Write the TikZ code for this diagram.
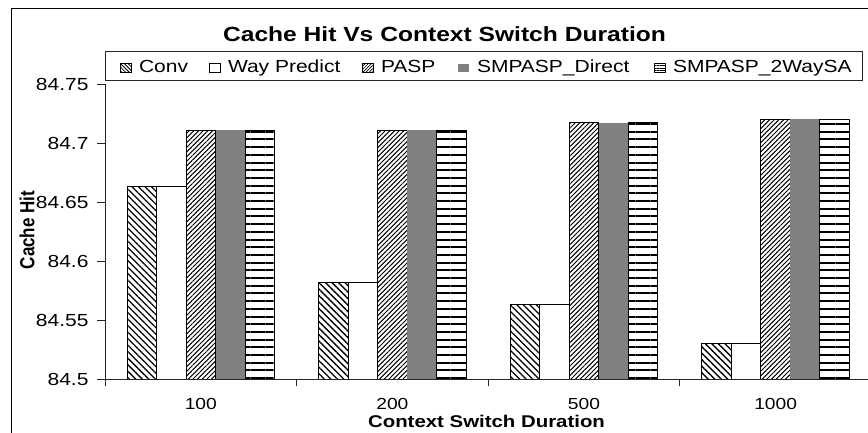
\documentclass[tikz,border=0pt]{standalone}
\usepackage{graphicx}
\usepackage{fontspec}
\setmainfont{Liberation Sans}
\usetikzlibrary{patterns.meta}

% text is set slightly wide, as in the chart's original rendering
\newcommand{\wide}[1]{\scalebox{1.2}[1]{#1}}
\newcommand{\tall}[1]{\scalebox{1}[1.2]{#1}}

\tikzset{
  txt/.style={inner sep=0pt, outer sep=0pt},
  titletxt/.style={txt, font=\fontsize{20.5}{24}\selectfont\bfseries},
  axtitle/.style={txt, font=\fontsize{17}{20}\selectfont\bfseries},
  ticklab/.style={txt, font=\fontsize{17.5}{20}\selectfont},
  catlab/.style={txt, font=\fontsize{16}{19}\selectfont},
  legtxt/.style={txt, font=\fontsize{17.5}{20}\selectfont, anchor=base west},
  axisline/.style={draw=black!85, line width=1pt},
  barbox/.style={draw=black, line width=1pt},
  convbar/.style={barbox, pattern={Lines[angle=-45,distance=4.6pt,line width=1.3pt]}, pattern color=black},
  waybar/.style={barbox, fill=white},
  paspbar/.style={barbox, pattern={Lines[angle=45,distance=3.3pt,line width=1pt]}, pattern color=black},
  directbar/.style={fill=black!50},
  sabar/.style={barbox, pattern={Lines[angle=0,distance=7.7pt,line width=2pt]}, pattern color=black},
  legmark/.style={line width=0.8pt},
}

\begin{document}
\begin{tikzpicture}[x=1pt,y=-1pt]
  \useasboundingbox (0,0) rectangle (868,432);
  \clip (0,0) rectangle (868,432);
  \fill[white] (0,0) rectangle (868,432);

  % chart frame (runs past the right and bottom edges)
  \draw[line width=1pt] (11,8) rectangle (878,445);

  % title
  \node[titletxt] (title) at (444.5,34) {\wide{Cache Hit Vs Context Switch Duration}};

  % bars: left edge of group g is 127 + 191.6 g, bar width 29.5
  % value v sits at y = 379 - (v - 84.5) * 1180
  \foreach \lo/\hi [count=\g from 0] in {84.663/84.711, 84.582/84.711, 84.563/84.717, 84.530/84.720} {
    \pgfmathsetmacro\xl{127+191.6*\g}
    \pgfmathsetmacro\ylo{379-(\lo-84.5)*1180}
    \pgfmathsetmacro\yhi{379-(\hi-84.5)*1180}
    \draw[convbar]   (\xl,379) rectangle ({\xl+29.5},\ylo);
    \draw[waybar]    ({\xl+29.5},379) rectangle ({\xl+59},\ylo);
    \draw[paspbar]   ({\xl+59},379) rectangle ({\xl+88.5},\yhi);
    \fill[directbar] ({\xl+88.5},379) rectangle ({\xl+118},\yhi);
    \draw[sabar]     ({\xl+118},379) rectangle ({\xl+147.5},\yhi);
  }

  % axes
  \draw[axisline] (105,84) -- (105,379) -- (872,379);
  \foreach \lab [count=\i from 0] in {84.5,84.55,84.6,84.65,84.7,84.75} {
    \draw[axisline] (97,{379-59*\i}) -- (105,{379-59*\i});
    \node[ticklab, anchor=east] (ytick\i) at (88.5,{379-59*\i}) {\wide{\lab}};
  }
  \foreach \k in {0,...,4} {
    \draw[axisline] ({105+191.6*\k},379) -- ({105+191.6*\k},386);
  }
  \foreach \c [count=\g from 0] in {100,200,500,1000} {
    \node[catlab] (cat\g) at ({200.8+191.6*\g},403.5) {\wide{\c}};
  }

  % axis titles
  \node[axtitle] (xtitle) at (486.5,421) {\wide{Context Switch Duration}};
  \node[axtitle, rotate=90] (ytitle) at (27,230) {\tall{Cache Hit}};

  % legend
  \draw[draw=black!85, line width=1pt, fill=white] (105,51) rectangle (862,80);
  \draw[convbar, legmark, pattern={Lines[angle=-45,distance=2.6pt,line width=0.8pt]}] (120,63.5) rectangle (131,72);
  \node[legtxt] (lconv) at (139,72.5) {\wide{Conv}};
  \draw[waybar, legmark] (209,63.5) rectangle (220,72);
  \node[legtxt] (lway) at (228,72.5) {\wide{Way Predict}};
  \draw[paspbar, legmark, pattern={Lines[angle=45,distance=2.2pt,line width=0.7pt]}] (362,63.5) rectangle (373,72);
  \node[legtxt] (lpasp) at (381,72.5) {\wide{PASP}};
  \fill[directbar] (458,63.5) rectangle (469,72);
  \node[legtxt] (ldirect) at (477,72.5) {\wide{SMPASP\_Direct}};
  \draw[sabar, legmark, pattern={Lines[angle=0,distance=2.8pt,line width=0.8pt]}] (654,63.5) rectangle (665,72);
  \node[legtxt] (lsa) at (673,72.5) {\wide{SMPASP\_2WaySA}};
\end{tikzpicture}
\end{document}
